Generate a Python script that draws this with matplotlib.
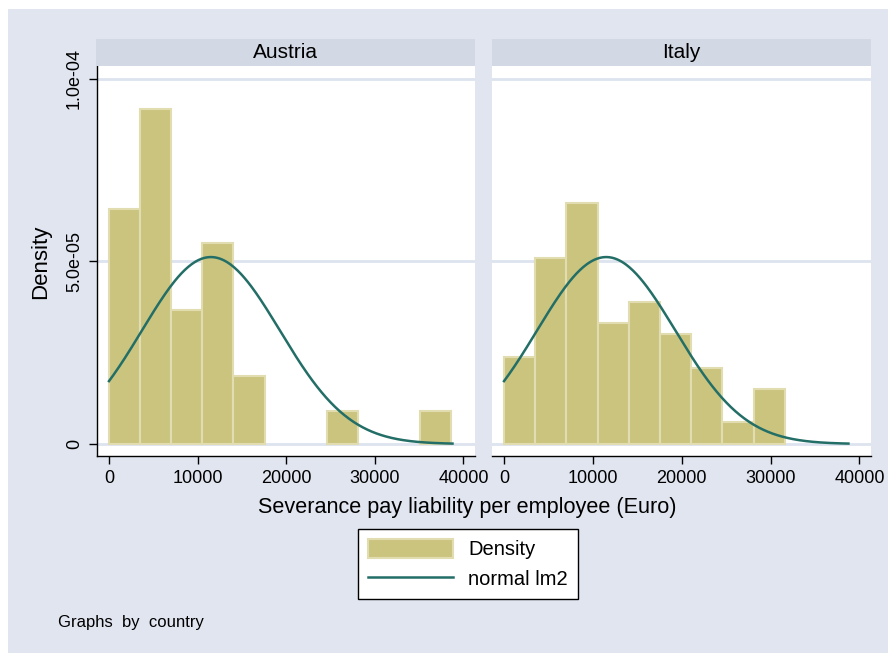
import numpy as np
import matplotlib.pyplot as plt
from matplotlib.patches import Rectangle, Patch
from matplotlib.lines import Line2D

plt.rcParams['font.family'] = ['Liberation Sans', 'DejaVu Sans']

# ----- Data -----
bin_width = 3510
austria_edges = np.arange(11) * bin_width
austria_density = np.array([6.44e-5, 9.17e-5, 3.67e-5, 5.51e-5, 1.86e-5, 0, 0, 9.1e-6, 0, 0, 9.1e-6])
italy_edges = np.arange(9) * bin_width
italy_density = np.array([2.39e-5, 5.09e-5, 6.59e-5, 3.31e-5, 3.90e-5, 3.00e-5, 2.09e-5, 6.1e-6, 1.51e-5])

# normal curve fitted to the pooled data (normal lm2)
curve_mean = 11500
curve_sd = 7790
curve_min, curve_max = 0, 38760

panels = ["Austria", "Italy"]
yticks = [0, 5e-5, 1e-4]
ytick_labels = ["0", "5.0e-05", "1.0e-04"]
xticks = [0, 10000, 20000, 30000, 40000]

bg = '#e1e5f0'
strip_col = '#d2d8e4'
grid_col = '#dde3ef'
bar_col = '#cbc47f'
bar_edge = '#e2ddb0'
curve_col = '#236e66'

W, H = 888, 653
fig = plt.figure(figsize=(W / 100, H / 100), dpi=100)
fig.patch.set_facecolor('white')
fig.patches.append(Rectangle((8 / W, 0), 1 - 8 / W, 1 - 9 / H, transform=fig.transFigure,
                             facecolor=bg, edgecolor='none', zorder=-10))

xs = np.linspace(curve_min, curve_max, 300)
ys = np.exp(-0.5 * ((xs - curve_mean) / curve_sd) ** 2) / (curve_sd * np.sqrt(2 * np.pi))

data = [(austria_edges, austria_density), (italy_edges, italy_density)]
lefts = [97, 492]
rights = [475, 871]
top_px, bot_px, strip_px = 66, 456, 39

for i, (name, (edges, dens)) in enumerate(zip(panels, data)):
    l, r = lefts[i] / W, rights[i] / W
    b, t = 1 - bot_px / H, 1 - top_px / H
    ax = fig.add_axes([l, b, r - l, t - b])
    ax.set_facecolor('white')
    keep = dens > 0
    ax.bar(edges[keep], dens[keep], width=bin_width, align='edge', color=bar_col,
           edgecolor=bar_edge, linewidth=1.5, zorder=2)
    ax.plot(xs, ys, color=curve_col, linewidth=1.8, zorder=3)
    for yv in yticks:
        ax.axhline(yv, color=grid_col, linewidth=2, zorder=1)
    ax.set_xlim(-1352, 41300)
    ax.set_ylim(-0.0329e-4, 1.0356e-4)
    ax.set_xticks(xticks)
    ax.set_xticklabels([str(v) for v in xticks], fontsize=13)
    ax.tick_params(axis='x', direction='out', length=6, width=1, pad=4)
    for s in ['top', 'right']:
        ax.spines[s].set_visible(False)
    ax.spines['bottom'].set_linewidth(1)
    if i == 0:
        ax.set_yticks(yticks)
        ax.set_yticklabels(ytick_labels, fontsize=13, rotation=90, va='center')
        ax.tick_params(axis='y', direction='out', length=6, width=1, pad=4)
        ax.spines['left'].set_linewidth(1)
    else:
        ax.set_yticks([])
        ax.spines['left'].set_visible(False)

    # strip header
    sax = fig.add_axes([l - (1 / W if i == 0 else 0), 1 - top_px / H, r - l + (1 / W if i == 0 else 0),
                        (top_px - strip_px) / H])
    sax.set_facecolor(strip_col)
    sax.set_xticks([])
    sax.set_yticks([])
    for s in sax.spines.values():
        s.set_visible(False)
    sax.text(0.5, 0.5, name, ha='center', va='center', fontsize=15, transform=sax.transAxes)

fig.text(41 / W, 1 - 262 / H, "Density", rotation=90, ha='center', va='center', fontsize=16)
fig.text(467 / W, 1 - 508 / H, "Severance pay liability per employee (Euro)",
         ha='center', va='center', fontsize=15.6)
fig.text(58 / W, 1 - 622 / H, "Graphs  by  country", ha='left', va='center', fontsize=12)

handles = [Patch(facecolor=bar_col, edgecolor=bar_edge, linewidth=1.5),
           Line2D([0], [0], color=curve_col, linewidth=1.8)]
leg = fig.legend(handles, ["Density", "normal lm2"], loc='center',
                 bbox_to_anchor=(468 / W, 1 - 564 / H), fontsize=14.5, frameon=True,
                 fancybox=False, edgecolor='black', framealpha=1, handlelength=4.2,
                 handleheight=1.1, borderpad=0.5, labelspacing=0.45, handletextpad=0.75,
                 borderaxespad=0)
leg.get_frame().set_linewidth(1)
leg.get_frame().set_facecolor('white')

fig.savefig('out.png', dpi=100)
